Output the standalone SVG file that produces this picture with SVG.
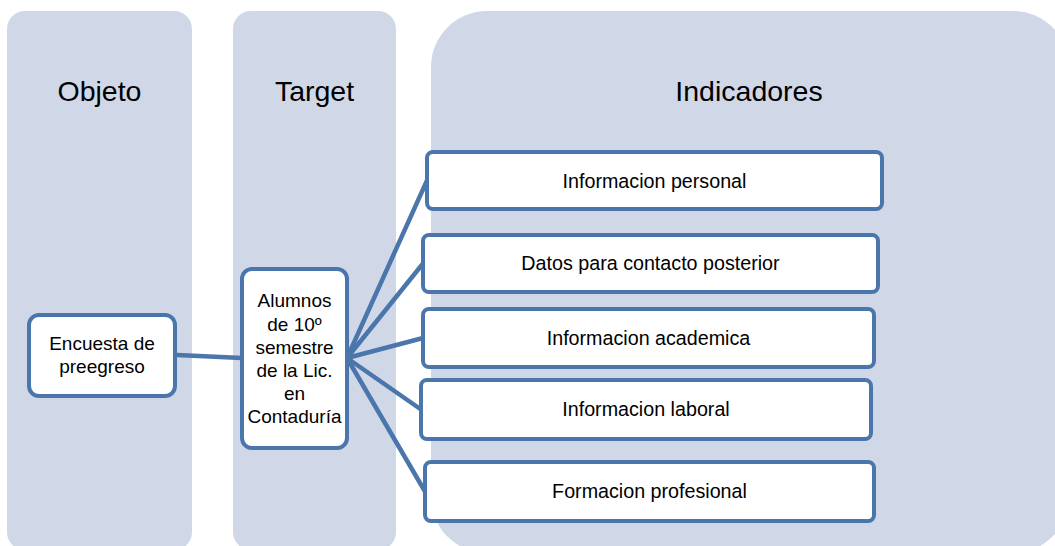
<svg xmlns="http://www.w3.org/2000/svg" width="1055" height="546" viewBox="0 0 1055 546">
<style>
.col{fill:#D0D8E8;}
.box{fill:#FFFFFF;stroke:#4A76AC;stroke-width:4;}
.con{stroke:#4A76AC;stroke-width:4.5;fill:none;stroke-linecap:round;}
.h{font-family:"Liberation Sans",Arial,sans-serif;font-size:28.5px;fill:#000;text-anchor:middle;}
.t{font-family:"Liberation Sans",Arial,sans-serif;font-size:19px;fill:#000;text-anchor:middle;}
.i{font-family:"Liberation Sans",Arial,sans-serif;font-size:19.7px;fill:#000;text-anchor:middle;}
</style>
<g id="col-objeto">
<rect class="col" x="7" y="11" width="185" height="539" rx="18"/>
<text class="h" x="99.5" y="101">Objeto</text>
</g>
<g id="col-target">
<rect class="col" x="233" y="11" width="163" height="539" rx="18"/>
<text class="h" x="314.5" y="101">Target</text>
</g>
<g id="col-indicadores">
<rect class="col" x="431" y="11" width="638" height="542" rx="56"/>
<text class="h" x="749" y="101">Indicadores</text>
</g>
<g id="connectors">
<line class="con" x1="177" y1="355" x2="242" y2="358"/>
<line class="con" x1="347" y1="358" x2="427" y2="180.5"/>
<line class="con" x1="347" y1="358" x2="423" y2="263.5"/>
<line class="con" x1="347" y1="358" x2="423" y2="338"/>
<line class="con" x1="347" y1="358" x2="421" y2="409.5"/>
<line class="con" x1="347" y1="358" x2="425" y2="491.5"/>
</g>
<g id="node-encuesta">
<rect class="box" x="29" y="315" width="146" height="81" rx="10"/>
<text class="t" x="102" y="350">Encuesta de</text>
<text class="t" x="102" y="373">preegreso</text>
</g>
<g id="node-alumnos">
<rect class="box" x="242" y="269" width="105" height="179" rx="10"/>
<text class="t" x="294.5" y="307">Alumnos</text>
<text class="t" x="294.5" y="330.5">de 10º</text>
<text class="t" x="294.5" y="353.5">semestre</text>
<text class="t" x="294.5" y="377">de la Lic.</text>
<text class="t" x="294.5" y="400">en</text>
<text class="t" x="294.5" y="423">Contaduría</text>
</g>
<g id="node-personal">
<rect class="box" x="427" y="152" width="455" height="57" rx="6"/>
<text class="i" x="654.5" y="187.5">Informacion personal</text>
</g>
<g id="node-contacto">
<rect class="box" x="423" y="235" width="455" height="57" rx="6"/>
<text class="i" x="650.5" y="269.5">Datos para contacto posterior</text>
</g>
<g id="node-academica">
<rect class="box" x="423" y="309" width="451" height="58" rx="6"/>
<text class="i" x="648.5" y="345">Informacion academica</text>
</g>
<g id="node-laboral">
<rect class="box" x="421" y="380" width="450" height="59" rx="6"/>
<text class="i" x="646" y="416">Informacion laboral</text>
</g>
<g id="node-profesional">
<rect class="box" x="425" y="462" width="449" height="59" rx="6"/>
<text class="i" x="649.5" y="498">Formacion profesional</text>
</g>
</svg>
